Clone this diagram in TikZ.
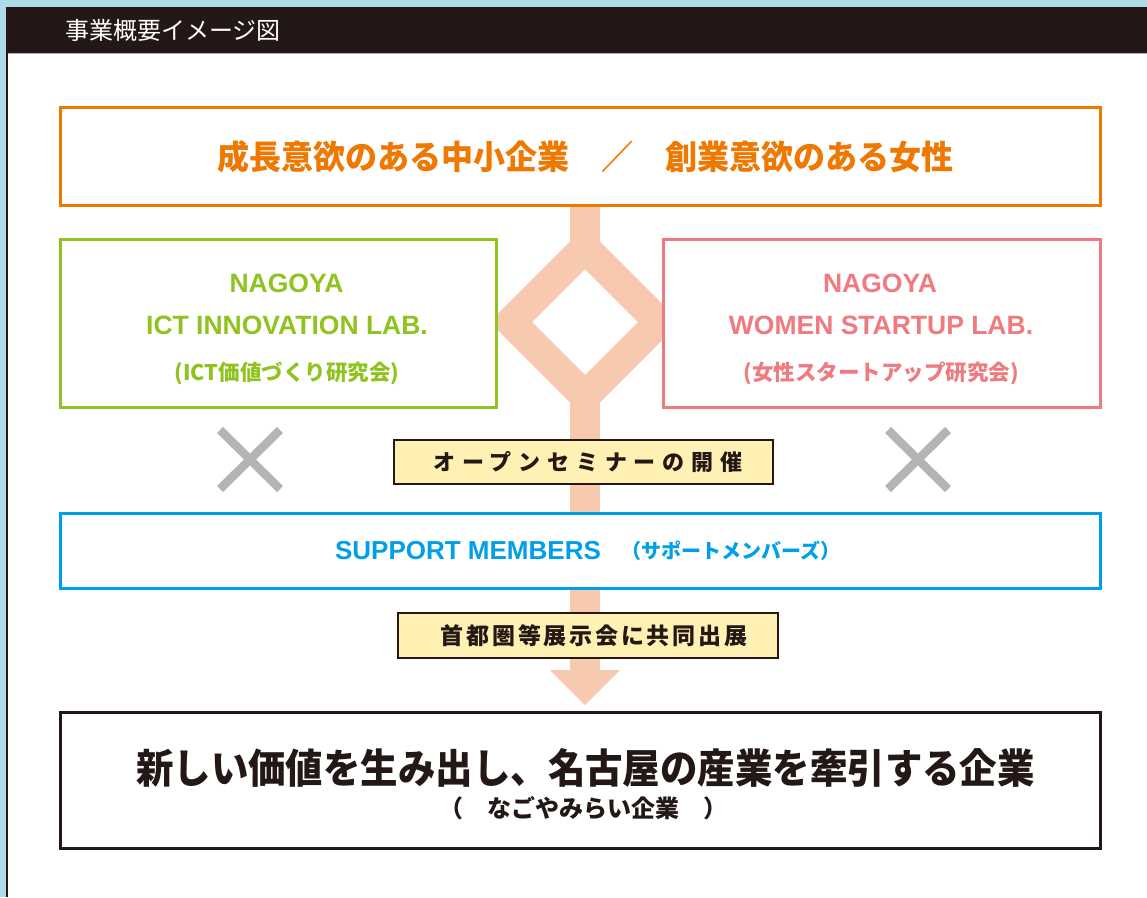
\documentclass[tikz,border=0pt]{standalone}
\usepackage{fontspec}
\setmainfont{Liberation Sans}
\newfontfamily\jp{Noto Sans CJK JP}
\usetikzlibrary{calc}
\definecolor{bgblue}{RGB}{173,219,231}
\definecolor{ink}{RGB}{35,24,21}
\definecolor{orng}{RGB}{238,120,0}
\definecolor{grn}{RGB}{143,195,31}
\definecolor{pnk}{RGB}{239,122,127}
\definecolor{blu}{RGB}{0,160,233}
\definecolor{bandc}{RGB}{247,201,174}
\definecolor{ylw}{RGB}{255,241,180}
\definecolor{xgray}{RGB}{180,180,180}
\tikzset{
  box/.style={draw, line width=3pt, fill=white, inner sep=0pt},
  tagbox/.style={draw=ink, line width=2pt, fill=ylw, inner sep=0pt},
  band/.style={draw=bandc, line width=30pt},
  cross/.style={draw=xgray, line width=8.5pt},
  lat/.style={font=\fontsize{26.5}{30}\selectfont\bfseries, inner sep=0pt},
  jsub/.style={font=\jp\bfseries\fontsize{21.5}{25}\selectfont, inner sep=0pt},
}
\begin{document}
\begin{tikzpicture}[x=1pt,y=-1pt]
\useasboundingbox (0,0) rectangle (1147,897);
\fill[bgblue] (0,0) rectangle (1147,897);
\fill[ink] (5.5,7) rectangle (1147,53);
\fill[ink] (5.5,53) rectangle (8,897);
\fill[white] (8,53) rectangle (1147,897);
\draw[gray!60, line width=0.8pt] (8,53.4) -- (1147,53.4);
\node[anchor=west, text=white, inner sep=0pt, font=\jp\fontsize{24}{28}\selectfont] (title) at (65,30) {事業概要イメージ図};

% band (connector)
\coordinate (dc) at (585,322);
\coordinate (tip) at (585,705);
\draw[band] (585,200) -- ($(dc)+(0,-74.2)$);
\draw[band, line join=miter] ($(dc)+(0,-74.2)$) -- ($(dc)+(74.2,0)$) -- ($(dc)+(0,74.2)$) -- ($(dc)+(-74.2,0)$) -- cycle;
\draw[band] ($(dc)+(0,74.2)$) -- ($(tip)+(0,-34)$);
\fill[bandc] ($(tip)+(-35,-35)$) -- ($(tip)+(35,-35)$) -- (tip) -- cycle;

% boxes
\node[box, draw=orng, minimum width=1040pt, minimum height=98pt] (top) at (580.5,156.5) {};
\node[box, draw=grn, minimum width=436pt, minimum height=168pt] (ict) at (278.5,323.5) {};
\node[box, draw=pnk, minimum width=437pt, minimum height=168pt] (wsl) at (882,323.5) {};
\node[box, draw=blu, minimum width=1040pt, minimum height=75pt] (sup) at (580.5,551) {};
\node[box, draw=ink, minimum width=1040pt, minimum height=136pt] (goal) at (580.5,780.5) {};
\node[tagbox, minimum width=379pt, minimum height=44pt] (sem) at (583.5,462) {};
\node[tagbox, minimum width=380pt, minimum height=45pt] (expo) at (588,635.5) {};

% texts
\node[text=orng, inner sep=0pt, font=\jp\bfseries\fontsize{32}{36}\selectfont] (toptxt) at (585,157) {\scalebox{1.0}[1.04]{成長意欲のある中小企業　／　創業意欲のある女性}};

\node[lat, text=grn] (ict1) at (286.5,283) {NAGOYA};
\node[lat, text=grn] (ict2) at (287,325) {ICT INNOVATION LAB.};
\node[jsub, text=grn] (ict3) at (287,373) {(ICT価値づくり研究会)};

\node[lat, text=pnk] (wsl1) at (880,283) {NAGOYA};
\node[lat, text=pnk] (wsl2) at (881,325) {WOMEN STARTUP LAB.};
\node[jsub, text=pnk] (wsl3) at (881,373) {(女性スタートアップ研究会)};

\node[lat, text=blu, font=\fontsize{26}{30}\selectfont\bfseries] (sup1) at (468,551) {SUPPORT MEMBERS};
\node[text=blu, inner sep=0pt, font=\jp\bfseries\fontsize{20}{24}\selectfont] (sup2) at (731,551) {（サポートメンバーズ）};

\node[text=ink, inner sep=0pt, font=\jp\bfseries\fontsize{22}{26}\selectfont\addfontfeature{LetterSpace=31}] (semtxt) at (588,462) {オープンセミナーの開催};
\node[text=ink, inner sep=0pt, font=\jp\bfseries\fontsize{23}{27}\selectfont\addfontfeature{LetterSpace=12}] (expotxt) at (594,636) {首都圏等展示会に共同出展};

\node[text=ink, inner sep=0pt, font=\jp\bfseries\fontsize{39}{43}\selectfont] (goal1) at (585.5,768) {\scalebox{0.96}[1.04]{新しい価値を生み出し、名古屋の産業を牽引する企業}};
\node[text=ink, inner sep=0pt, font=\jp\bfseries\fontsize{24}{28}\selectfont] (goal2) at (583,808) {（　なごやみらい企業　）};

% crosses
\coordinate (xl) at (250,459.5);
\coordinate (xr) at (918,459.5);
\draw[cross] ($(xl)+(-30,-29.5)$) -- ($(xl)+(30,29.5)$);
\draw[cross] ($(xl)+(30,-29.5)$) -- ($(xl)+(-30,29.5)$);
\draw[cross] ($(xr)+(-30,-29.5)$) -- ($(xr)+(30,29.5)$);
\draw[cross] ($(xr)+(30,-29.5)$) -- ($(xr)+(-30,29.5)$);
\end{tikzpicture}
\end{document}
